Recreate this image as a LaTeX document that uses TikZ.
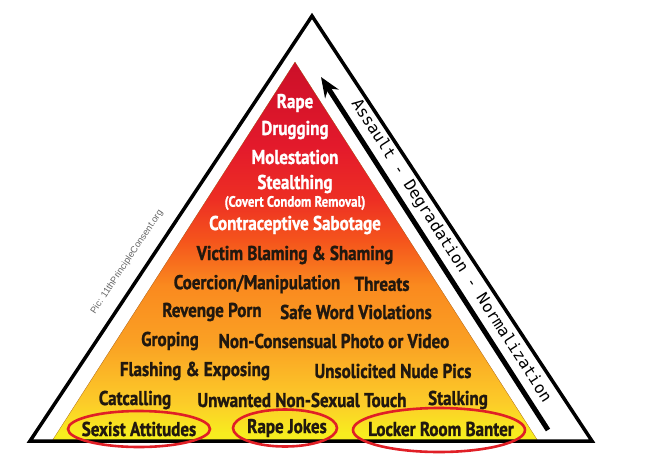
\documentclass[tikz,border=0pt]{standalone}
\usepackage{fontspec}
\newfontfamily\pyrfont{PT Sans}[FakeStretch=0.85, BoldFeatures={FakeBold=1.2}]
\newfontfamily\trendfont{DejaVu Sans Mono}
\newfontfamily\notefont{Liberation Sans}
\usetikzlibrary{arrows.meta}

\definecolor{ink}{HTML}{21180F}
\definecolor{ringred}{HTML}{E01F26}
\pgfdeclareverticalshading{heat}{100bp}{rgb(0bp)=(0.97,0.93,0.12); rgb(26bp)=(0.97,0.93,0.12); rgb(30bp)=(0.99,0.80,0.16); rgb(38bp)=(0.98,0.63,0.14); rgb(45.5bp)=(0.98,0.54,0.12); rgb(51.5bp)=(0.96,0.33,0.11); rgb(57bp)=(0.93,0.18,0.14); rgb(64bp)=(0.89,0.10,0.17); rgb(75bp)=(0.80,0.06,0.16); rgb(100bp)=(0.80,0.06,0.16)}

\tikzset{
  lvl/.style={font=\pyrfont\bfseries\fontsize{20}{22}\selectfont, text=ink, inner sep=1pt},
  top/.style={lvl, text=white},
  ring/.style={draw=ringred, line width=2.6pt}
}

\begin{document}
\begin{tikzpicture}[x=1pt, y=-1pt]
    \useasboundingbox (0,0) rectangle (665,459);
    % outer frame
    \coordinate (A) at (30,441);
    \coordinate (B) at (592,441);
    \coordinate (C) at (312,16);
    % pyramid
    \coordinate (P) at (52,441);
    \coordinate (Q) at (538,441);
    \coordinate (R) at (295,62);
    \path[shading=heat, draw=orange!60!black, very thin] (P) -- (Q) -- (R) -- cycle;
    \path[draw, line width=3.5pt, line join=miter] (A) -- (B) -- (C) -- cycle;
    % trend arrow
    \coordinate (tail) at (548,430);
    \coordinate (head) at (321,77);
    \path[draw, line width=5pt, -{Stealth[length=20pt,width=16pt]}] (tail) to (head);
    \node[rotate=-57.3, font=\trendfont\fontsize{16}{18}\selectfont] (trend) at (451,251) {Assault - Degradation - Normalization};
    \node[rotate=56.4, font=\notefont\fontsize{9.3}{10}\selectfont, text=black!60] (credit) at (127,262) {Pic: 11thPrincipleConsent.org};
    % assault
    \node[top] (rape) at (295,103) {Rape};
    \node[top] (drug) at (295,130) {Drugging};
    \node[top] (molest) at (295,157) {Molestation};
    \node[top] (stealth) at (295,184) {Stealthing};
    \node[top, font=\pyrfont\bfseries\fontsize{15}{16}\selectfont] (covert) at (295,203) {(Covert Condom Removal)};
    \node[top] (sabot) at (295,225) {Contraceptive Sabotage};
    % degradation
    \node[lvl] (blame) at (295,255) {Victim Blaming \& Shaming};
    \node[lvl] (coerce) at (257,284) {Coercion/Manipulation};
    \node[lvl] (threat) at (382,284) {Threats};
    \node[lvl] (revenge) at (212,312) {Revenge Porn};
    \node[lvl] (safe) at (356,312) {Safe Word Violations};
    \node[lvl] (grope) at (170,341) {Groping};
    \node[lvl] (photo) at (334,341) {Non-Consensual Photo or Video};
    \node[lvl] (flash) at (195,371) {Flashing \& Exposing};
    \node[lvl] (nude) at (393,371) {Unsolicited Nude Pics};
    \node[lvl] (catcall) at (135,400) {Catcalling};
    \node[lvl] (touch) at (302,400) {Unwanted Non-Sexual Touch};
    \node[lvl] (stalk) at (458,400) {Stalking};
    % normalization
    \node[lvl] (sexist) at (139,429) {Sexist Attitudes};
    \node[lvl] (jokes) at (287,428) {Rape Jokes};
    \node[lvl] (banter) at (441,429) {Locker Room Banter};
    \path[ring] (sexist.center) ellipse [x radius=71, y radius=18];
    \path[ring] ([xshift=-2pt]jokes.center) ellipse [x radius=52, y radius=18.5];
    \path[ring] ([xshift=-2pt, yshift=-1pt]banter.center) ellipse [x radius=86, y radius=22];
\end{tikzpicture}
\end{document}
